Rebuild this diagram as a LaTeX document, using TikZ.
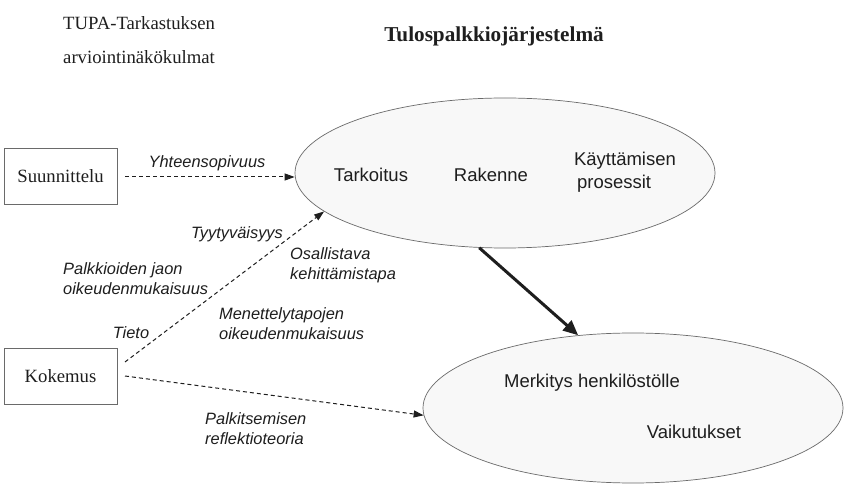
\documentclass[tikz,border=0pt]{standalone}
\usepackage{fontspec}
\setmainfont{Liberation Serif}
\newfontfamily\arialf{Liberation Sans}
\usetikzlibrary{shapes.geometric,arrows.meta}
\definecolor{txt}{HTML}{1E1E1E}
\definecolor{edge}{HTML}{6A6A6A}
\definecolor{ellfill}{HTML}{F8F8F8}
\tikzset{
  oval/.style={ellipse,draw=edge,line width=0.7pt,fill=ellfill,minimum width=420pt,minimum height=150pt,inner sep=0pt},
  sbox/.style={draw=edge,line width=0.8pt,fill=white,minimum width=113pt,minimum height=56pt,inner sep=0pt,font=\fontsize{18.7}{22}\selectfont,text=txt},
  inner/.style={font=\arialf\fontsize{18.5}{23}\selectfont,text=txt,align=left,inner sep=0pt},
  lbl/.style={font=\arialf\itshape\fontsize{16.4}{20}\selectfont,text=txt,align=left,inner sep=0pt},
  serif/.style={font=\fontsize{18.7}{22}\selectfont,text=txt,inner sep=0pt},
  dashedarrow/.style={draw=txt,line width=1pt,dash pattern=on 4pt off 3pt,-{Triangle[length=10pt,width=7pt]}},
  thickarrow/.style={draw=txt,line width=3pt,-{Triangle[length=15pt,width=13pt]}}
}
\begin{document}
\begin{tikzpicture}[x=1pt,y=-1pt]
\useasboundingbox (0,0) rectangle (855,494);
\fill[white] (0,0) rectangle (855,494);
% header texts
\node[serif,anchor=west] (h1) at (63,23) {TUPA-Tarkastuksen};
\node[serif,anchor=west] (h2) at (63,57) {arviointinäkökulmat};
\node[serif,font=\bfseries\fontsize{21.2}{25}\selectfont] (title) at (494,36) {Tulospalkkiojärjestelmä};
% ellipses
\node[oval] (e1) at (505,173) {};
\node[oval] (e2) at (633,408) {};
\node[inner] (t1) at (371,175) {Tarkoitus};
\node[inner] (t2) at (491,175) {Rakenne};
\node[inner] (t3) at (625,172) {Käyttämisen\\\hspace{3pt}prosessit};
\node[inner] (t4) at (592,383) {Merkitys henkilöstölle};
\node[inner] (t5) at (694,432) {Vaikutukset};
% boxes
\node[sbox] (s) at (60.5,176) {Suunnittelu};
\node[sbox] (k) at (60.5,376) {Kokemus};
% connector start points
\coordinate (s1) at (125,177);
\coordinate (k1) at (125,362);
\coordinate (k2) at (125,376);
% connectors
\draw[dashedarrow] (s1) -- (s1 -| e1.west);
\draw[dashedarrow] (k1) -- (e1.192);
\draw[dashedarrow] (k2) -- (e2.182);
\draw[thickarrow] (e1.251) -- (e2.127);
% labels
\node[lbl] (l1) at (207,163) {Yhteensopivuus};
\node[lbl] (l2) at (237,234) {Tyytyväisyys};
\node[lbl,anchor=west] (l3) at (63,279) {Palkkioiden jaon\\oikeudenmukaisuus};
\node[lbl,anchor=west] (l4) at (290,265) {Osallistava\\kehittämistapa};
\node[lbl,anchor=west] (l5) at (219,324) {Menettelytapojen\\oikeudenmukaisuus};
\node[lbl] (l6) at (131,333) {Tieto};
\node[lbl,anchor=west] (l7) at (205,429) {Palkitsemisen\\reflektioteoria};
\end{tikzpicture}
\end{document}
